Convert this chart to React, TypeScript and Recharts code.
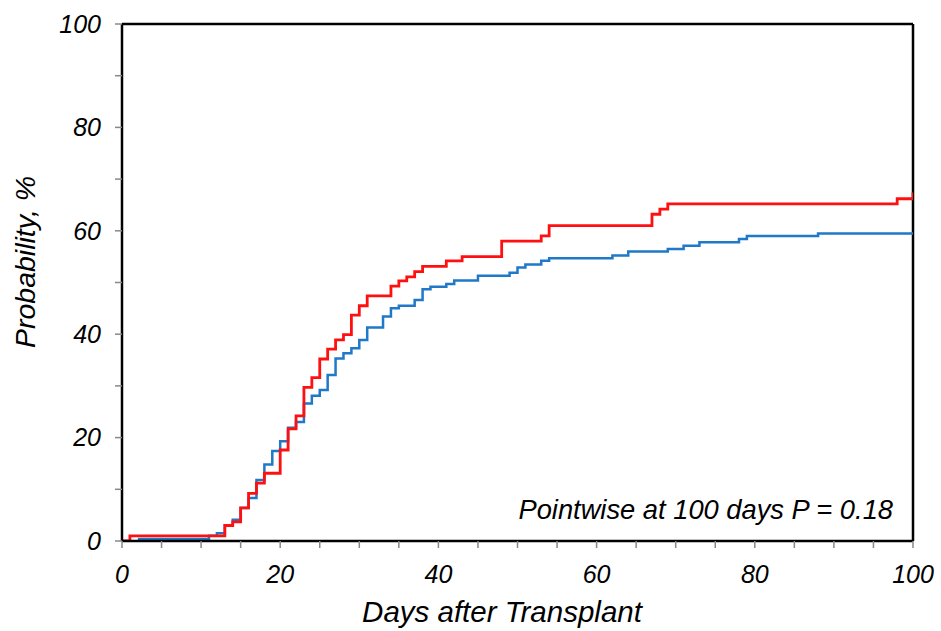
import React from 'react';
import { LineChart, Line, XAxis, YAxis, ReferenceLine, Customized } from 'recharts';

const redDays = [0, 1, 13, 14, 15, 16, 17, 18, 20, 21, 22, 23, 24, 25, 26, 27, 28, 29, 30, 31, 34, 35, 36, 37, 38, 41, 43, 48, 53, 54, 67, 68, 69, 98, 100];
const redValues = [0, 1.0, 3.0, 3.7, 6.4, 9.2, 11.2, 13.1, 17.6, 21.7, 24.2, 29.7, 31.6, 35.2, 37.1, 38.9, 39.9, 43.7, 45.5, 47.4, 49.3, 50.3, 51.1, 52.1, 53.1, 54.2, 55.0, 58.0, 59.0, 61.0, 63.2, 64.2, 65.2, 66.2, 67.4];

const blueDays = [2, 11, 12, 13, 14, 15, 16, 17, 18, 19, 20, 21, 22, 23, 24, 25, 26, 27, 28, 29, 30, 31, 33, 34, 35, 37, 38, 39, 41, 42, 45, 49, 50, 51, 53, 54, 62, 64, 69, 71, 73, 78, 79, 88, 100];
const blueValues = [0.4, 1.0, 1.5, 3.0, 4.1, 6.4, 8.3, 11.8, 14.8, 17.4, 19.3, 21.9, 23.0, 26.6, 28.1, 29.2, 32.1, 35.3, 36.3, 37.3, 38.9, 41.3, 43.4, 45.0, 45.5, 46.6, 48.7, 49.2, 49.7, 50.4, 51.3, 51.9, 52.9, 53.5, 54.2, 54.7, 55.2, 56.0, 56.5, 57.1, 57.8, 58.4, 59.0, 59.5, 59.5];

const xTicks = [0, 5, 10, 15, 20, 25, 30, 35, 40, 45, 50, 55, 60, 65, 70, 75, 80, 85, 90, 95, 100];
const yTicks = [0, 10, 20, 30, 40, 50, 60, 70, 80, 90, 100];

const xTitle = 'Days after Transplant';
const yTitle = 'Probability, %';
const note = 'Pointwise at 100 days P = 0.18';

const redData = redDays.map((d, i) => ({ d, p: redValues[i] }));
const blueData = blueDays.map((d, i) => ({ d, p: blueValues[i] }));

const FONT = '"Liberation Sans", Arial, Helvetica, sans-serif';
const tickStyle = { fill: '#000', fontSize: 25, fontStyle: 'italic', fontFamily: FONT };
const fmt = (v: number) => (v % 20 === 0 ? String(v) : '');

const Texts = () => (
  <g fontFamily={FONT} fontStyle="italic" fill="#000">
    <text x={502} y={622} fontSize={29.5} textAnchor="middle">{xTitle}</text>
    <text x={35} y={262} fontSize={28.5} textAnchor="middle" transform="rotate(-90 35 262)">{yTitle}</text>
    <text x={893} y={519} fontSize={27.3} textAnchor="end">{note}</text>
  </g>
);

export default function App() {
  return (
    <div style={{ width: 941, height: 631, background: '#fff' }}>
      <style>{'body{margin:0}'}</style>
      <LineChart width={941} height={631} margin={{ top: 24, right: 28, bottom: 40, left: 62 }}>
        <XAxis
          type="number"
          dataKey="d"
          domain={[0, 100]}
          ticks={xTicks}
          tickFormatter={fmt}
          interval={0}
          height={50}
          tickSize={7}
          tickMargin={17}
          tick={tickStyle}
          tickLine={{ stroke: '#888', strokeWidth: 1.5 }}
          axisLine={{ stroke: '#000', strokeWidth: 2.5 }}
          allowDataOverflow
        />
        <YAxis
          type="number"
          domain={[0, 100]}
          ticks={yTicks}
          tickFormatter={fmt}
          interval={0}
          width={60}
          tickSize={7}
          tickMargin={14}
          tick={tickStyle}
          tickLine={{ stroke: '#888', strokeWidth: 1.5 }}
          axisLine={{ stroke: '#000', strokeWidth: 2.5 }}
          allowDataOverflow
        />
        <ReferenceLine y={100} stroke="#000" strokeWidth={2.5} />
        <ReferenceLine x={100} stroke="#000" strokeWidth={2.5} />
        <Line data={blueData} dataKey="p" type="stepAfter" stroke="#1f78c8" strokeWidth={2.5} dot={false} isAnimationActive={false} />
        <Line data={redData} dataKey="p" type="stepAfter" stroke="#ff1010" strokeWidth={2.8} dot={false} isAnimationActive={false} />
        <Customized component={Texts} />
      </LineChart>
    </div>
  );
}
